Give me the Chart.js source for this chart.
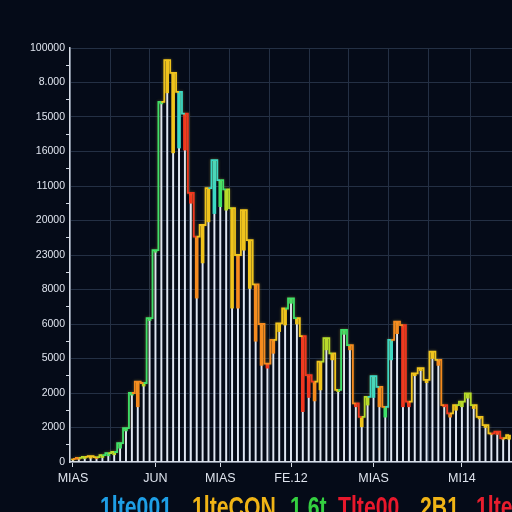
<!DOCTYPE html>
<html lang="en">
  <head>
    <meta charset="UTF-8" />
    <script src="https://cdn.jsdelivr.net/npm/chart.js@4.4.0/dist/chart.umd.min.js"></script>
    <title>chart</title>
    <style>
      html, body {
        margin: 0;
        padding: 0;
        background: #050b18;
        overflow: hidden;
      }

      .container {
        position: relative;
        width: 512px;
        height: 512px;
        overflow: hidden;
      }

      .legend {
        position: absolute;
        left: 0;
        top: 492px;
        width: 512px;
        height: 40px;
      }

      .legend span {
        position: absolute;
        top: 0;
        font-family: 'Liberation Sans', Arial, sans-serif;
        font-weight: bold;
        font-size: 30px;
        line-height: 30px;
        white-space: nowrap;
        transform-origin: left top;
      }
    </style>
  </head>
  <body>
    <div class="container">
      <canvas id="chart" width="512" height="512"></canvas>
      <div class="legend" id="legend"></div>
    </div>
    <script>
      // y ticks as printed on the original (bottom to top)
      const yTickLabels = ['0', '2000', '2000', '5000', '6000', '8000', '23000',
        '20000', '11000', '16000', '15000', '8.000', '100000']

      const xTickLabels = ['MIAS', 'JUN', 'MIAS', 'FE.12', 'MIAS', 'MI14']
      const xTickIndex = [0, 14, 25, 37, 51, 66]

      const seriesNames = ['1lte001', '1lteCON', '1.6t', 'Tlte00', '2B1', '1lte']
      const seriesColors = ['#1e9fe6', '#f0b416', '#34d040', '#e8182c', '#f0b416', '#e81e2e']

      // white bar heights
      const barValues = [
        60, 80, 100, 110, 100, 130, 180, 210, 400, 900,
        1940, 1600, 2200, 4100, 6080, 10380, 10700, 8960, 9100, 9040,
        7500, 4750, 5770, 6960, 7200, 7400, 7300, 4460, 4460, 6140,
        5030, 3500, 2800, 2720, 3150, 3780, 3970, 4600, 4000, 1460,
        1870, 1770, 2090, 3250, 2960, 2040, 3700, 3250, 1600, 1020,
        1650, 1870, 1600, 1300, 2960, 3720, 1600, 1600, 2500, 2650,
        2300, 3000, 2800, 1600, 1300, 1500, 1600, 1850, 1550, 1250,
        1000, 800, 800, 660, 660,
      ]

      // coloured step line on top of the bars
      const lineValues = [
        90, 120, 150, 170, 140, 200, 260, 290, 550, 980,
        2000, 2330, 2290, 4170, 6140, 10440, 11650, 11280, 10730, 10100,
        7800, 6530, 6870, 7940, 8750, 8170, 7900, 7360, 6000, 7300,
        6430, 5150, 4000, 2850, 3540, 4020, 4450, 4740, 4170, 3650,
        2520, 2330, 2910, 3590, 3150, 2090, 3830, 3390, 1700, 1310,
        1890, 2490, 2180, 1600, 3540, 4070, 3970, 1750, 2570, 2720,
        2380, 3200, 2960, 1650, 1410, 1650, 1750, 1990, 1650, 1310,
        1070, 830, 880, 690, 780,
      ]

      const categories = barValues.map((_, i) => String(i))

      const G = '#3ee06a', C = '#3cd8c4', Y = '#f0c41c', O = '#f58a1e', R = '#f0361f', L = '#b4dc2a'
      const topColors = [
        Y, O, L, Y, O, L, G, L, G, G,
        G, O, L, G, G, G, Y, Y, C, R,
        R, O, Y, Y, C, G, L, Y, O, Y,
        Y, O, O, R, O, Y, Y, G, Y, R,
        R, O, Y, L, Y, L, G, O, R, Y,
        L, C, O, G, C, O, R, R, Y, Y,
        Y, Y, O, R, O, Y, L, L, Y, Y,
        Y, O, R, O, Y,
      ]

      // legend: tall, squeezed text like the original
      const legend = document.getElementById('legend')
      const legendLeft = [100, 192, 290, 338, 420, 476]
      const spans = seriesNames.map((name, i) => {
        const s = document.createElement('span')
        s.textContent = name
        s.style.color = seriesColors[i]
        s.style.left = legendLeft[i] + 'px'
        legend.appendChild(s)
        return s
      })
      const squeeze = 72 / spans[0].getBoundingClientRect().width
      spans.forEach((s) => {
        s.style.transform = 'scaleX(' + squeeze + ')'
      })

      const gridColor = '#243044'
      const axisColor = '#d4dae4'
      const textColor = '#dfe4ee'

      const glow = {
        id: 'glow',
        beforeDatasetDraw(chart, args) {
          if (args.index === 2) {
            chart.ctx.save()
            chart.ctx.shadowColor = 'rgba(240, 200, 60, 0.4)'
            chart.ctx.shadowBlur = 3
          }
        },
        afterDatasetDraw(chart, args) {
          if (args.index === 2) chart.ctx.restore()
        },
      }

      new Chart(document.getElementById('chart').getContext('2d'), {
        type: 'bar',
        data: {
          labels: categories,
          datasets: [
            {
              data: barValues,
              backgroundColor: '#dfe6f2',
              barThickness: 1.3,
              grouped: false,
              order: 3,
            },
            {
              data: barValues.map((v, i) => [v, lineValues[i]]),
              backgroundColor: topColors,
              barThickness: 3,
              grouped: false,
              order: 2,
            },
            {
              type: 'line',
              data: lineValues,
              stepped: 'middle',
              borderWidth: 1.8,
              pointRadius: 0,
              borderColor: Y,
              segment: {
                borderColor: (ctx) =>
                  topColors[ctx.p1.parsed.y > ctx.p0.parsed.y ? ctx.p1DataIndex : ctx.p0DataIndex],
              },
              order: 1,
            },
          ],
        },
        options: {
          responsive: false,
          animation: false,
          layout: { padding: { left: 0, right: 0, top: 48, bottom: 0 } },
          plugins: {
            legend: { display: false },
            tooltip: { enabled: false },
          },
          scales: {
            x: {
              offset: true,
              afterBuildTicks: (axis) => {
                axis.ticks = axis.ticks.filter((t) => xTickIndex.includes(t.value))
              },
              afterFit: (axis) => {
                axis.height = 50
              },
              ticks: {
                autoSkip: false,
                maxRotation: 0,
                padding: 4,
                color: textColor,
                font: { family: 'Liberation Sans', size: 12.5 },
                callback: (v) => xTickLabels[xTickIndex.indexOf(v)],
              },
              grid: {
                offset: false,
                drawOnChartArea: false,
                drawTicks: true,
                tickLength: 5,
                tickColor: axisColor,
              },
              border: { color: axisColor, width: 1.5 },
            },
            xg: {
              type: 'linear',
              position: 'bottom',
              min: 0,
              max: 10.09,
              afterFit: (axis) => {
                axis.height = 0
              },
              ticks: { display: false, stepSize: 1 },
              grid: { color: gridColor, drawTicks: false },
              border: { display: false },
            },
            y: {
              min: 0,
              max: 12000,
              afterFit: (axis) => {
                axis.width = 70
              },
              ticks: {
                stepSize: 500,
                autoSkip: false,
                padding: 1,
                color: textColor,
                font: { family: 'Liberation Sans', size: 10.5 },
                callback: (v) => (v % 1000 === 0 ? yTickLabels[v / 1000] : ''),
              },
              grid: {
                color: (ctx) => (ctx.tick && ctx.tick.value % 1000 === 0 ? gridColor : 'transparent'),
                tickColor: (ctx) => (ctx.tick && ctx.tick.value % 1000 !== 0 ? axisColor : 'transparent'),
                tickLength: 4,
              },
              border: { color: axisColor, width: 1.5 },
            },
          },
        },
        plugins: [glow],
      })
    </script>
  </body>
</html>
